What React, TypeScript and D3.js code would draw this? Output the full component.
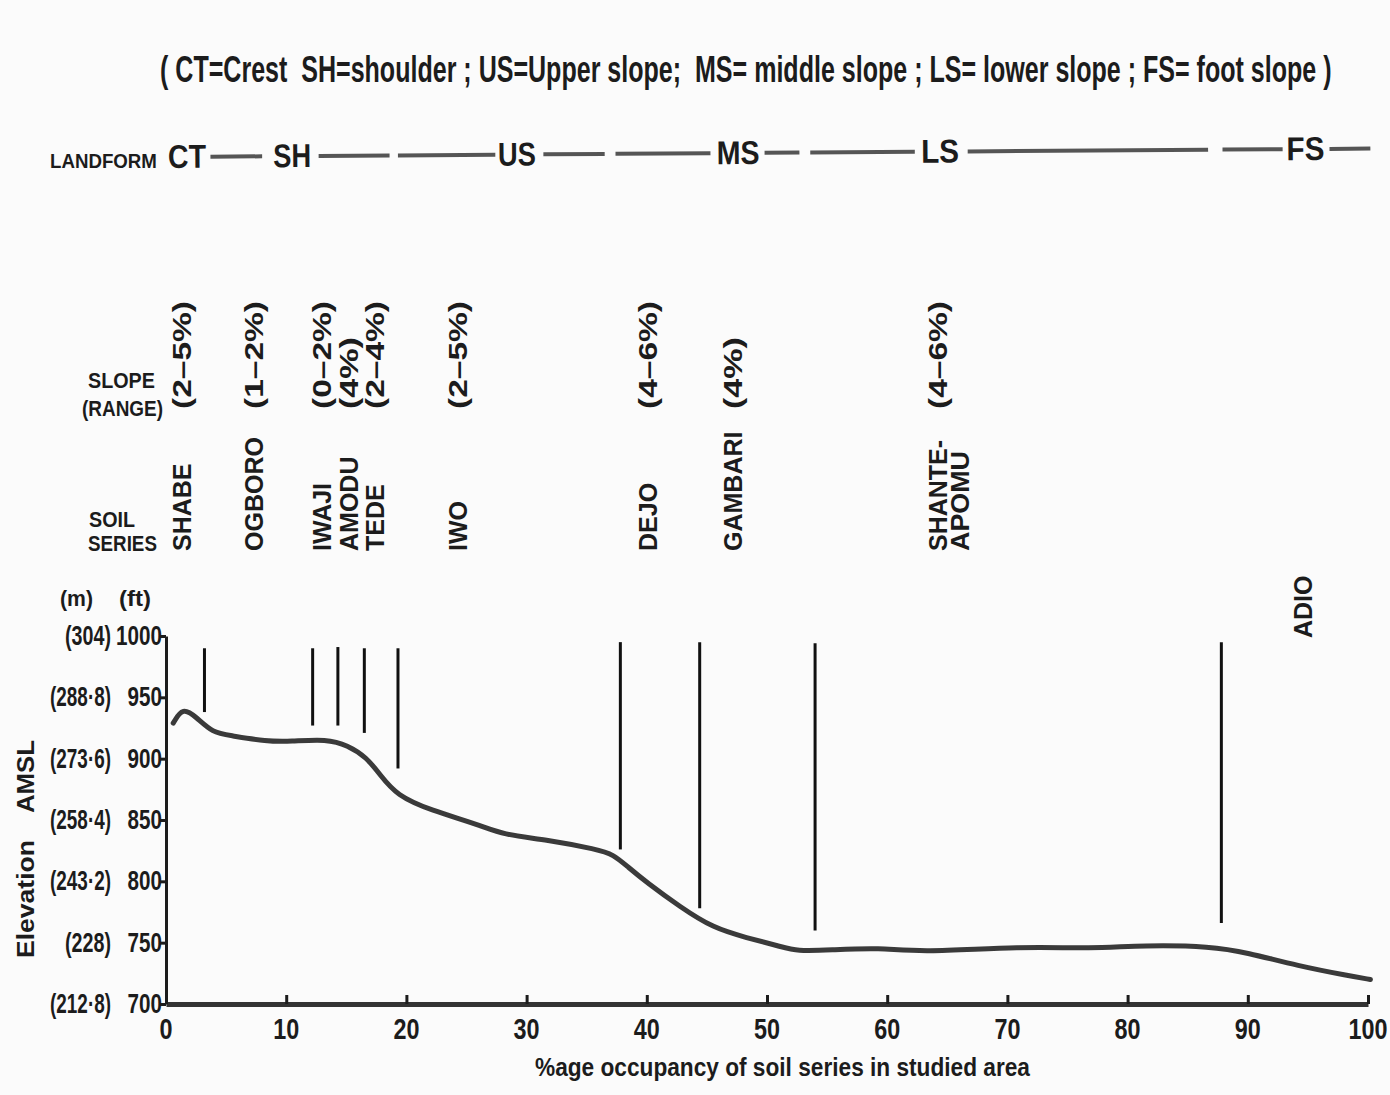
import { useEffect, useRef } from 'react';
import * as d3 from 'd3';

const W = 1390;
const H = 1095;

// ground profile along the transect: % occupancy vs elevation (ft)
const profilePct = [0.6, 1.4, 2.5, 3.9, 5.3, 8.4, 10.3, 13.4, 15.1, 16.7, 17.8, 19.2, 22.0, 26.1, 28.0, 31.7, 35.9, 37.2, 38.4, 40.0, 42.8, 45.5, 48.3, 51.1, 52.5, 55.2, 59.4, 62.7, 71.2, 77.0, 81.3, 87.0, 89.9, 94.2, 98.4, 100.2];
const profileFt = [929, 942, 934, 921, 919, 914, 914, 916, 911, 901, 887, 870, 858, 846, 838, 834, 826, 822, 812, 799, 779, 762, 754, 747, 743, 744, 746, 742, 747, 745, 748, 747, 742, 731, 723, 720];

// soil series boundaries (vertical bars)
const boundaryPct = [3.2, 12.2, 14.3, 16.5, 19.3, 37.8, 44.4, 54.0, 87.8];
const boundaryTopFt = [990, 990, 991, 990, 990, 995, 995, 994, 995];
const boundaryBottomFt = [938, 927, 927, 921, 892, 826, 778, 760, 766];

const soilSeries = ['SHABE', 'OGBORO', 'IWAJI', 'AMODU', 'TEDE', 'IWO', 'DEJO', 'GAMBARI', 'SHANTE-', 'ADIO'];
const soilSecondLine = ['', '', '', '', '', '', '', '', 'APOMU', ''];
const slopeRange = ['(2–5%)', '(1–2%)', '(0–2%)', '(4%)', '(2–4%)', '(2–5%)', '(4–6%)', '(4%)', '(4–6%)', ''];
const seriesPct = [1.3, 7.3, 13.0, 15.2, 17.4, 24.3, 40.1, 47.2, 64.2, 94.6];

const landforms = ['CT', 'SH', 'US', 'MS', 'LS', 'FS'];
const landformPct = [1.75, 10.5, 29.2, 47.6, 64.4, 94.8];
const landformDashes = [[3.7, 8.0], [12.7, 18.6], [19.3, 27.4], [31.4, 36.5], [37.4, 45.3], [49.8, 52.7], [53.6, 62.3], [66.7, 86.7], [87.9, 92.9], [96.8, 100.2]];

const xTicks = [0, 10, 20, 30, 40, 50, 60, 70, 80, 90, 100];
const ftTicks = [700, 750, 800, 850, 900, 950, 1000];
const mTicks = ['(212·8)', '(228)', '(243·2)', '(258·4)', '(273·6)', '(288·8)', '(304)'];

const FONT = "'Liberation Sans', Arial, Helvetica, sans-serif";
const INK = '#1c1c1c';

export default function App() {
  const svgRef = useRef<SVGSVGElement>(null);

  useEffect(() => {
    if (!svgRef.current) return;
    const svg = d3.select(svgRef.current);
    svg.selectAll('*').remove();

    const x = d3.scaleLinear().domain([0, 100]).range([166, 1368]);
    const y = d3.scaleLinear().domain([700, 1000]).range([1004, 636]);

    svg.append('rect').attr('width', W).attr('height', H).attr('fill', '#fbfbfb');

    // bold text squeezed horizontally to a measured width (the original lettering is condensed)
    const text = (parent: any, str: string, px: number, py: number, size: number, len?: number, anchor = 'start', rotate = 0) => {
      const g = parent.append('g');
      const t = g.append('text')
        .attr('font-size', size)
        .attr('font-weight', 'bold')
        .attr('font-family', FONT)
        .attr('fill', INK)
        .attr('text-anchor', anchor)
        .attr('dy', rotate ? '0.36em' : null)
        .style('white-space', 'pre')
        .text(str);
      const natural = (t.node() as SVGTextElement).getComputedTextLength() || 1;
      const sx = len ? len / natural : 1;
      g.attr('transform', `translate(${px},${py}) rotate(${rotate}) scale(${sx},1)`);
      return t;
    };

    // title
    text(svg, '( CT=Crest  SH=shoulder ; US=Upper slope;  MS= middle slope ; LS= lower slope ; FS= foot slope )', 160, 82, 36, 1172);

    // landform row
    text(svg, 'LANDFORM', 50, 168, 21, 107);
    const lf = svg.append('g').attr('transform', 'rotate(-0.4, 166, 160)');
    lf.selectAll('line.dash')
      .data(landformDashes)
      .enter()
      .append('line')
      .attr('x1', d => x(d[0]))
      .attr('x2', d => x(d[1]))
      .attr('y1', 157)
      .attr('y2', 157)
      .attr('stroke', '#555')
      .attr('stroke-width', 4);
    landforms.forEach((l, i) => {
      text(lf, l, x(landformPct[i]), 168, 33, l === 'MS' ? 43 : 38, 'middle');
    });

    // row headers
    text(svg, 'SLOPE', 88, 388, 22, 67);
    text(svg, '(RANGE)', 82, 416, 22, 81);
    text(svg, 'SOIL', 89, 527, 22, 46);
    text(svg, 'SERIES', 88, 551, 22, 69);

    // rotated slope and soil labels
    soilSeries.forEach((s, i) => {
      const px = x(seriesPct[i]);
      if (slopeRange[i]) {
        text(svg, slopeRange[i], px, 409, 25, slopeRange[i].length * 18, 'start', -90);
        text(svg, s, px, 551, 25, undefined, 'start', -90);
      } else {
        text(svg, s, px, 638, 25, undefined, 'start', -90);
      }
      if (soilSecondLine[i]) text(svg, soilSecondLine[i], px + 22, 551, 25, 100, 'start', -90);
    });

    // axes
    const yAxis = svg.append('g')
      .attr('transform', `translate(${x(0)},0)`)
      .call(d3.axisLeft(y).tickValues(ftTicks).tickSize(7).tickSizeOuter(0).tickFormat(() => ''));
    yAxis.select('.domain').attr('stroke', INK).attr('stroke-width', 3);
    yAxis.selectAll('.tick line').attr('stroke', INK).attr('stroke-width', 3);

    ftTicks.forEach((v, i) => {
      text(svg, String(v), 162, y(v) + 9, 27, String(v).length * 11.5, 'end');
      const m = mTicks[i];
      const mLen = m.replace(/[()·]/g, '').length * 11 + 13 + (m.includes('·') ? 4 : 0);
      text(svg, m, 111, y(v) + 9, 27, mLen, 'end');
    });
    text(svg, '(m)', 60, 606, 22, 33);
    text(svg, '(ft)', 119, 606, 22, 32);

    const xAxis = svg.append('g')
      .attr('transform', `translate(0,${y(700)})`)
      .call(d3.axisBottom(x).tickValues(xTicks).tickSize(-9).tickSizeOuter(0).tickPadding(13).tickFormat(() => ''));
    xAxis.select('.domain').attr('stroke', '#333').attr('stroke-width', 5);
    xAxis.selectAll('.tick line').attr('stroke', INK).attr('stroke-width', 3);
    xTicks.forEach(v => {
      text(svg, String(v), x(v), 1039, 30, String(v).length * 13, 'middle');
    });

    // axis titles
    text(svg, '%age occupancy of soil series in studied area', 535, 1076, 25, 495);
    text(svg, 'Elevation', 25, 958, 24, 118, 'start', -90);
    text(svg, 'AMSL', 25, 813, 24, 73, 'start', -90);

    // soil boundaries
    svg.selectAll('line.boundary')
      .data(boundaryPct)
      .enter()
      .append('line')
      .attr('class', 'boundary')
      .attr('x1', d => x(d))
      .attr('x2', d => x(d))
      .attr('y1', (d, i) => y(boundaryTopFt[i]))
      .attr('y2', (d, i) => y(boundaryBottomFt[i]))
      .attr('stroke', '#111')
      .attr('stroke-width', 3);

    // ground profile
    const line = d3.line<number>()
      .x(d => x(d))
      .y((d, i) => y(profileFt[i]))
      .curve(d3.curveBasis);
    svg.append('path')
      .datum(profilePct)
      .attr('d', line)
      .attr('fill', 'none')
      .attr('stroke', '#3a3a3a')
      .attr('stroke-width', 5)
      .attr('stroke-linecap', 'round');
  }, []);

  return (
    <div style={{ position: 'absolute', left: 0, top: 0 }}>
      <svg ref={svgRef} width={W} height={H} style={{ display: 'block' }}></svg>
    </div>
  );
}
